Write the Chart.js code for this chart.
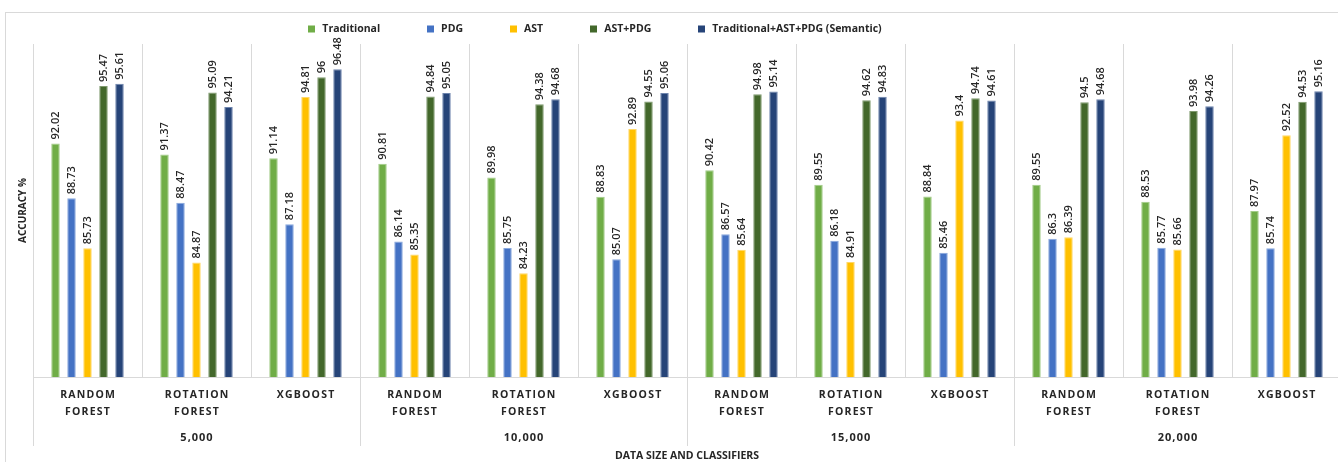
<!DOCTYPE html>
<html>
<head>
<meta charset="utf-8">
<title>Accuracy by data size and classifier</title>
<script src="https://cdn.jsdelivr.net/npm/chart.js@4/dist/chart.umd.min.js"></script>
<style>
  html, body { margin: 0; padding: 0; background: #ffffff; overflow: hidden; }
  #wrap { position: relative; width: 1338px; height: 462px; overflow: hidden; }
  canvas { display: block; }
</style>
</head>
<body>
<div id="wrap"><canvas id="chart" width="1344" height="462"></canvas></div>
<script>
// Data sizes and the classifiers evaluated at each size
const dataSizes = ['5,000', '10,000', '15,000', '20,000'];
const classifiers = [['RANDOM', 'FOREST'], ['ROTATION', 'FOREST'], ['XGBOOST']];

// Accuracy (%) per feature set, one value per size/classifier pair
const traditional = [92.02, 91.37, 91.14, 90.81, 89.98, 88.83, 90.42, 89.55, 88.84, 89.55, 88.53, 87.97];
const pdg         = [88.73, 88.47, 87.18, 86.14, 85.75, 85.07, 86.57, 86.18, 85.46, 86.3, 85.77, 85.74];
const ast         = [85.73, 84.87, 94.81, 85.35, 84.23, 92.89, 85.64, 84.91, 93.4, 86.39, 85.66, 92.52];
const astPdg      = [95.47, 95.09, 96, 94.84, 94.38, 94.55, 94.98, 94.62, 94.74, 94.5, 93.98, 94.53];
const semantic    = [95.61, 94.21, 96.48, 95.05, 94.68, 95.06, 95.14, 94.83, 94.61, 94.68, 94.26, 95.16];

const seriesNames = ['Traditional', 'PDG', 'AST', 'AST+PDG', 'Traditional+AST+PDG (Semantic)'];
const seriesColors = ['#70AD47', '#4472C4', '#FFC000', '#43682B', '#264478'];
const seriesEdges = ['#a2cc88', '#89a8dd', '#ffd766', '#7f9a6e', '#6d84ad'];

// Value axis range
const yMin = 78;
const yMax = 98;

// One category per size/classifier pair
const categories = [];
dataSizes.forEach(() => classifiers.forEach(c => categories.push(c)));

const FONT = "'Open Sans', 'Liberation Sans', sans-serif";
const TEXT = '#262626';
const GRID = '#d9d9d9';

// Frame around the whole chart
const framePlugin = {
  id: 'frame',
  beforeDraw(chart) {
    const ctx = chart.ctx;
    ctx.save();
    ctx.fillStyle = '#ffffff';
    ctx.fillRect(0, 0, chart.width, chart.height);
    ctx.strokeStyle = GRID;
    ctx.lineWidth = 1;
    ctx.strokeRect(5.5, 12.5, chart.width + 20, chart.height + 20);
    ctx.restore();
  }
};

// Value labels written vertically above each bar
const valueLabelPlugin = {
  id: 'valueLabels',
  afterDatasetsDraw(chart) {
    const ctx = chart.ctx;
    ctx.save();
    ctx.font = `600 11px ${FONT}`;
    ctx.fillStyle = '#262626';
    ctx.textAlign = 'left';
    ctx.textBaseline = 'middle';
    chart.data.datasets.forEach((ds, di) => {
      const meta = chart.getDatasetMeta(di);
      meta.data.forEach((bar, i) => {
        ctx.save();
        ctx.translate(bar.x, bar.y - 4);
        ctx.rotate(-Math.PI / 2);
        ctx.fillText(String(ds.data[i]), 0, 0);
        ctx.restore();
      });
    });
    ctx.restore();
  }
};

// Two-level category axis: classifier names, then data size groups
const groupAxisPlugin = {
  id: 'groupAxis',
  afterDraw(chart) {
    const ctx = chart.ctx;
    const x = chart.scales.x;
    const area = chart.chartArea;
    const n = categories.length;
    const step = x.width / n;
    const perGroup = classifiers.length;
    ctx.save();
    // group separators continue below the axis
    ctx.strokeStyle = GRID;
    ctx.lineWidth = 1;
    for (let g = 0; g <= dataSizes.length; g++) {
      const px = Math.round(x.getPixelForValue(g * perGroup) - step / 2) + 0.5;
      ctx.beginPath();
      ctx.moveTo(px, area.bottom);
      ctx.lineTo(px, area.bottom + 69);
      ctx.stroke();
    }
    ctx.fillStyle = TEXT;
    ctx.textAlign = 'center';
    ctx.textBaseline = 'middle';
    ctx.letterSpacing = '1.2px';
    ctx.font = `bold 10.5px ${FONT}`;
    categories.forEach((lines, i) => {
      const px = x.getPixelForValue(i);
      lines.forEach((t, k) => ctx.fillText(t, px + 0.6, area.bottom + 18 + k * 17));
    });
    ctx.letterSpacing = '1px';
    ctx.font = `bold 11px ${FONT}`;
    dataSizes.forEach((s, g) => {
      const a = x.getPixelForValue(g * perGroup);
      const b = x.getPixelForValue(g * perGroup + perGroup - 1);
      ctx.fillText(s, (a + b) / 2 + 0.5, area.bottom + 61);
    });
    ctx.letterSpacing = '0px';
    ctx.restore();
  }
};

// Horizontal legend row above the plot
const legendPlugin = {
  id: 'legendRow',
  afterDraw(chart) {
    const ctx = chart.ctx;
    const items = chart.data.datasets;
    const box = 7, textGap = 9, itemGap = 45;
    ctx.save();
    ctx.font = `bold 10.5px ${FONT}`;
    ctx.textBaseline = 'middle';
    ctx.textAlign = 'left';
    const widths = items.map(d => box + textGap + ctx.measureText(d.label).width);
    const total = widths.reduce((s, w) => s + w, 0) + itemGap * (items.length - 1);
    let cx = 596 - total / 2;
    const cy = 29;
    items.forEach((d, i) => {
      ctx.fillStyle = d.backgroundColor;
      ctx.fillRect(Math.round(cx), cy - 3.5, box, box);
      ctx.fillStyle = TEXT;
      ctx.fillText(d.label, cx + box + textGap - 2, cy);
      cx += widths[i] + itemGap;
    });
    ctx.restore();
  }
};

const seriesData = [traditional, pdg, ast, astPdg, semantic];

new Chart(document.getElementById('chart'), {
  type: 'bar',
  data: {
    labels: categories,
    datasets: seriesData.map((values, i) => ({
      label: seriesNames[i],
      data: values,
      backgroundColor: seriesColors[i],
      borderColor: seriesEdges[i],
      borderWidth: 1,
      categoryPercentage: 0.734,
      barPercentage: 0.53
    }))
  },
  options: {
    responsive: false,
    animation: false,
    devicePixelRatio: 1,
    layout: { padding: { left: 0, top: 44, right: 3, bottom: 0 } },
    plugins: {
      legend: { display: false },
      tooltip: { enabled: false }
    },
    scales: {
      x: {
        offset: true,
        grid: { display: true, offset: true, color: GRID, drawTicks: false },
        border: { display: true, color: GRID },
        ticks: { display: false },
        title: {
          display: true,
          text: 'DATA SIZE AND CLASSIFIERS',
          color: TEXT,
          font: { family: FONT, size: 10.5, weight: 'bold', lineHeight: 1.2 },
          padding: { top: 0, bottom: 0 }
        },
        afterFit(scale) { scale.height = 85; }
      },
      y: {
        min: yMin,
        max: yMax,
        grid: { display: false },
        border: { display: false },
        ticks: { display: false },
        title: {
          display: true,
          text: 'ACCURACY %',
          color: TEXT,
          font: { family: FONT, size: 10, weight: 'bold', lineHeight: 1.2 },
          padding: { top: 17, bottom: 0 }
        },
        afterFit(scale) { scale.width = 33; }
      }
    }
  },
  plugins: [framePlugin, valueLabelPlugin, groupAxisPlugin, legendPlugin]
});
</script>
</body>
</html>
